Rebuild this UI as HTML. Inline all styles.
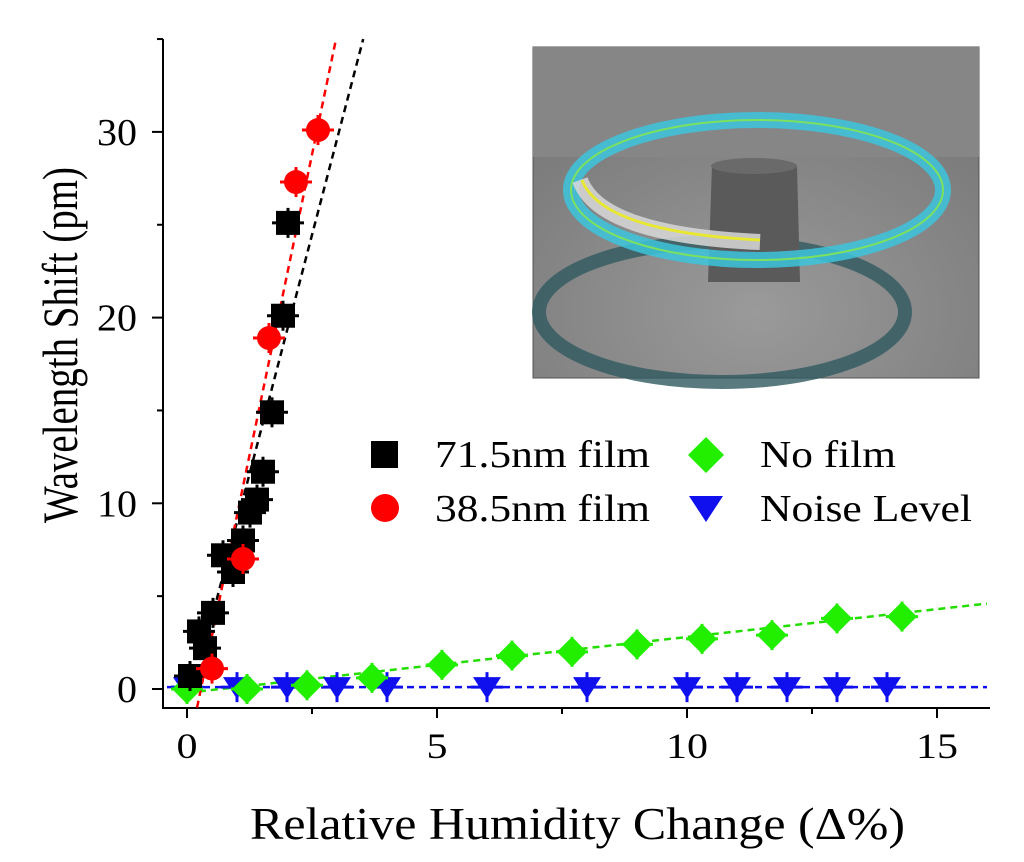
<!DOCTYPE html>
<html><head><meta charset="utf-8">
<style>
body{margin:0;background:#fff;width:1024px;height:862px;overflow:hidden}
svg{display:block;font-family:"Liberation Serif",serif}
</style></head>
<body>
<svg id="chart" width="1024" height="862">
<defs>
<radialGradient id="floor" cx="50%" cy="80%" r="80%">
<stop offset="0" stop-color="#9a9a9a"/><stop offset="1" stop-color="#767676"/>
</radialGradient>
</defs>
<g>
<rect x="533" y="47" width="446" height="331" fill="url(#floor)" stroke="#555" stroke-width="1"/>
<rect x="533" y="47" width="446" height="110" fill="#868686"/>
<ellipse cx="722" cy="312" rx="183" ry="70" fill="none" stroke="#2f5a60" stroke-width="14" opacity="0.8"/>
<path d="M712 165 L797 165 L800 282 L708 282 Z" fill="#5a5a5a"/>
<ellipse cx="754" cy="166" rx="43" ry="8" fill="#6a6a6a"/>
<ellipse cx="757" cy="190" rx="186" ry="70" fill="none" stroke="#3cc4dc" stroke-width="16" opacity="0.85"/>
<ellipse cx="757" cy="190" rx="186" ry="70" fill="none" stroke="#7ce060" stroke-width="2"/>
<path d="M580 180 Q600 235 760 242" fill="none" stroke="#d8d8d8" stroke-width="16" opacity="0.85"/>
<path d="M582 180 Q602 232 760 240" fill="none" stroke="#e8e830" stroke-width="3"/>
</g>
<g id="plot"></g>
<g font-size="38">
<rect x="371" y="441" width="27" height="27" fill="#000"/>
<text x="435" y="467" textLength="215" lengthAdjust="spacingAndGlyphs">71.5nm film</text>
<circle cx="385" cy="508" r="14" fill="#f00"/>
<text x="435" y="521" textLength="215" lengthAdjust="spacingAndGlyphs">38.5nm film</text>
<path d="M706 437 L724 455 L706 473 L688 455 Z" fill="#22ee00"/>
<text x="760" y="467" textLength="136" lengthAdjust="spacingAndGlyphs">No film</text>
<path d="M689 496 L723 496 L706 522 Z" fill="#1010ee"/>
<text x="760" y="521" textLength="212" lengthAdjust="spacingAndGlyphs">Noise Level</text>
</g>
<text x="250" y="839" font-size="45" textLength="655" lengthAdjust="spacingAndGlyphs">Relative Humidity Change (Δ%)</text>
<text transform="translate(77 523) rotate(-90)" font-size="50" textLength="356" lengthAdjust="spacingAndGlyphs">Wavelength Shift (pm)</text>
</svg>
<script>
const xTicks=[0,5,10,15];
const yTicks=[0,10,20,30];
const blackX=[0.06,0.24,0.36,0.52,0.72,0.92,1.12,1.26,1.4,1.52,1.7,1.92,2.02];
const blackY=[0.7,3.1,2.2,4.1,7.2,6.3,8.0,9.5,10.2,11.7,14.9,20.1,25.1];
const redX=[0.5,1.12,1.64,2.18,2.62];
const redY=[1.1,7.0,18.9,27.3,30.1];
const greenX=[0.0,1.2,2.4,3.7,5.1,6.5,7.7,9.0,10.3,11.7,13.0,14.3];
const greenY=[0.0,0.0,0.2,0.6,1.3,1.8,2.0,2.4,2.7,2.9,3.8,3.9];
const blueX=[0,1,2,3,4,6,8,10,11,12,13,14];
const blueY=[0.1,0.1,0.1,0.1,0.1,0.1,0.1,0.1,0.1,0.1,0.1,0.1];
const blackFit=[10.3,-1.3];
const redFit=[12.95,-3.6];
const greenFit=[0.3,-0.2];
const blueFit=[0,0.1];

const X0=163,X1=990,Y0=708,YT=39;
const sx=v=>187+v*50;
const sy=v=>689-v*18.57;
const NS='http://www.w3.org/2000/svg';
const g=document.getElementById('plot');
function mk(t,a,p){const e=document.createElementNS(NS,t);for(const k in a)e.setAttribute(k,a[k]);(p||g).appendChild(e);return e;}

const ax=mk('path',{d:`M${X0} ${YT} L${X0} ${Y0} L${X1} ${Y0}`,fill:'none',stroke:'#000','stroke-width':2});


xTicks.forEach(v=>{
 const t=mk('line',{x1:sx(v),x2:sx(v),y1:Y0,y2:Y0+10,stroke:'#000','stroke-width':2});
 
 
 const m=mk('line',{x1:sx(v+2.5),x2:sx(v+2.5),y1:Y0,y2:Y0+6,stroke:'#000','stroke-width':2});
 
 
 const s=String(v);
 const l=mk('text',{x:sx(v),y:Y0+50,'font-size':36,'text-anchor':'middle',textLength:s.length*21,lengthAdjust:'spacingAndGlyphs'});l.textContent=s;
 
 
});
yTicks.forEach(v=>{
 const t=mk('line',{x1:X0,x2:X0-11,y1:sy(v),y2:sy(v),stroke:'#000','stroke-width':2});
 
 
 const m=mk('line',{x1:X0,x2:X0-6,y1:sy(v+5),y2:sy(v+5),stroke:'#000','stroke-width':2});
 
 
 const s=String(v);
 const l=mk('text',{x:X0-26,y:sy(v)+13,'font-size':38,'text-anchor':'end',textLength:s.length*20,lengthAdjust:'spacingAndGlyphs'});l.textContent=s;
 
 
});
function fitLine(f,c,x0,x1,name){
 let ya=f[0]*x0+f[1],yb=f[0]*x1+f[1];
 if(f[0]>0){ if(yb>35){x1=(35-f[1])/f[0];yb=35;} if(ya<-1){x0=(-1-f[1])/f[0];ya=-1;} }
 const l=mk('line',{x1:sx(x0),y1:sy(ya),x2:sx(x1),y2:sy(yb),stroke:c,'stroke-width':2.5,'stroke-dasharray':'7 5'});
 
 
}
fitLine(blueFit,'#1010ee',-0.4,16,'noise-fit-line');
fitLine(greenFit,'#22dd00',0,16,'nofilm-fit-line');
fitLine(blackFit,'#000',0.35,5,'fit-line-71nm');
fitLine(redFit,'#f00',0,5,'fit-line-38nm');
function marker(type,x,y,name){
 const cx=sx(x),cy=sy(y);let e;
 if(type==='sq')e=mk('rect',{x:cx-12,y:cy-12,width:24,height:24,fill:'#000'});
 if(type==='ci')e=mk('circle',{cx:cx,cy:cy,r:12,fill:'#f00'});
 if(type==='di')e=mk('path',{d:`M${cx} ${cy-15}L${cx+15} ${cy}L${cx} ${cy+15}L${cx-15} ${cy}Z`,fill:'#22ee00'});
 if(type==='tr')e=mk('path',{d:`M${cx-14} ${cy-10}L${cx+14} ${cy-10}L${cx} ${cy+12}Z`,fill:'#1010ee'});
 mk('line',{x1:cx-16,x2:cx+16,y1:cy,y2:cy,stroke:e.getAttribute('fill'),'stroke-width':3});
 mk('line',{x1:cx,x2:cx,y1:cy-15,y2:cy+15,stroke:e.getAttribute('fill'),'stroke-width':3});
 
 
}
blueX.forEach((x,i)=>marker('tr',x,blueY[i],'noise-point'));
greenX.forEach((x,i)=>marker('di',x,greenY[i],'nofilm-point'));
blackX.forEach((x,i)=>marker('sq',x,blackY[i],'point-71nm'));
redX.forEach((x,i)=>marker('ci',x,redY[i],'point-38nm'));
</script>
</body></html>
